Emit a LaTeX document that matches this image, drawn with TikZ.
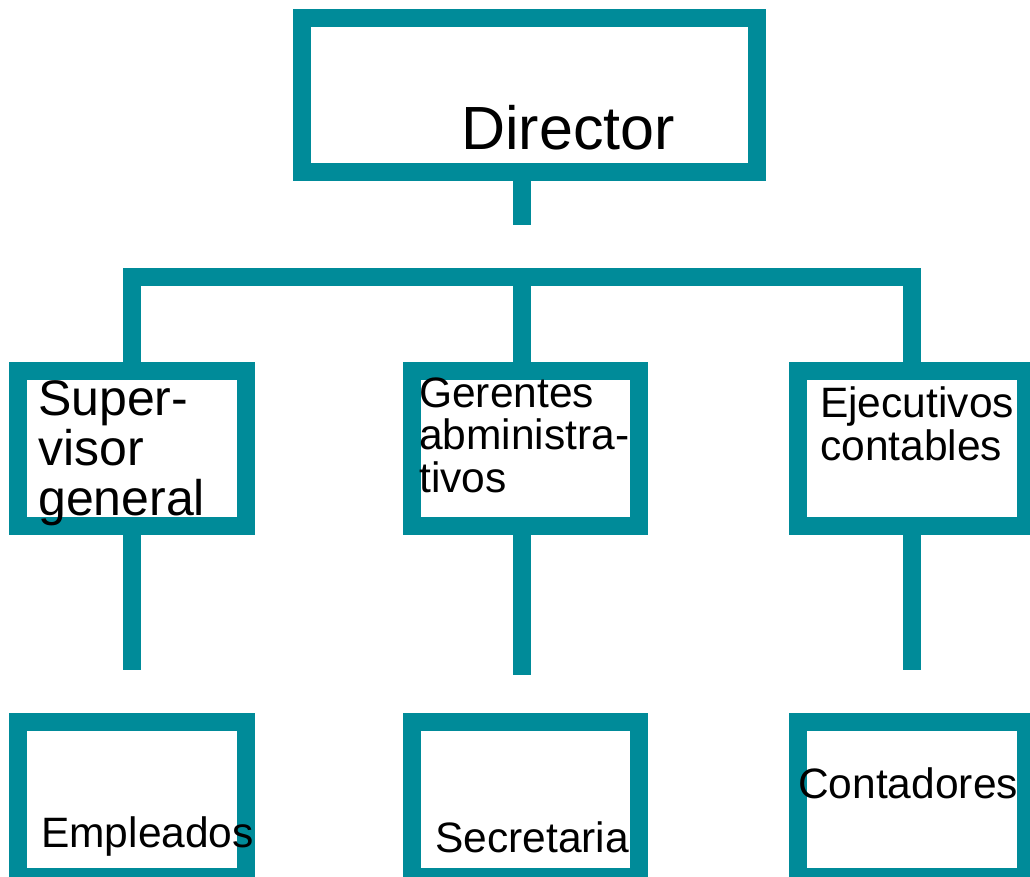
\documentclass[tikz,border=0pt]{standalone}
\usepackage{fontspec}
\setmainfont{Liberation Sans}
\definecolor{orgteal}{RGB}{0,139,153}
\newcommand\bigfont{\fontsize{61}{61}\selectfont}
\newcommand\midfont{\fontsize{50}{50}\selectfont}
\newcommand\smallfont{\fontsize{42.5}{42.5}\selectfont}
\begin{document}
\begin{tikzpicture}[x=1pt,y=-1pt,
    box/.style = {draw=orgteal,line width=18pt,inner sep=0pt,outer sep=0pt,
                  minimum width=227.5pt,minimum height=154.5pt},
    link/.style = {draw=orgteal,line width=18pt,line join=miter},
    lbl/.style = {inner sep=0pt,anchor=base west,align=left}]
    \useasboundingbox (0,0) rectangle (1030,877);
    \clip (0,0) rectangle (1030,877);

    \node[box,minimum width=455pt,minimum height=154pt] (dir) at (529.5,95) {};
    \node[box] (sup) at (132,448.25) {};
    \node[box] (ger) at (525.5,448.25) {};
    \node[box] (eje) at (912,448.25) {};
    \node[box] (emp) at (132,799.25) {};
    \node[box] (sec) at (525.5,799.25) {};
    \node[box] (con) at (912,799.25) {};

    \coordinate (hub) at (522,277);
    \coordinate (dirend) at (522,225);
    \coordinate (end1) at (132,670);
    \coordinate (end2) at (522,675);
    \coordinate (end3) at (912,670);

    \draw[link] (dir.south -| dirend) -- (dirend);
    \draw[link] (sup.north) -- (sup.north |- hub) -- (eje.north |- hub) -- (eje.north);
    \draw[link] (hub) -- (ger.north -| hub);
    \draw[link] (sup.south) -- (end1);
    \draw[link] (ger.south -| end2) -- (end2);
    \draw[link] (eje.south) -- (end3);

    \node[lbl,font=\bigfont] (tdir) at (461,150) {Director};
    \node[lbl,font=\midfont] (tsup) at (38,515) {Super-\\visor\\general};
    \node[lbl,font=\smallfont] (tger) at (419,492) {Gerentes\\abministra-\\tivos};
    \node[lbl,font=\smallfont] (teje) at (820,460) {Ejecutivos\\contables};
    \node[lbl,font=\smallfont] (temp) at (41,847) {Empleados};
    \node[lbl,font=\smallfont] (tsec) at (435,852) {Secretaria};
    \node[lbl,font=\smallfont] (tcon) at (798,798) {Contadores};
\end{tikzpicture}
\end{document}
